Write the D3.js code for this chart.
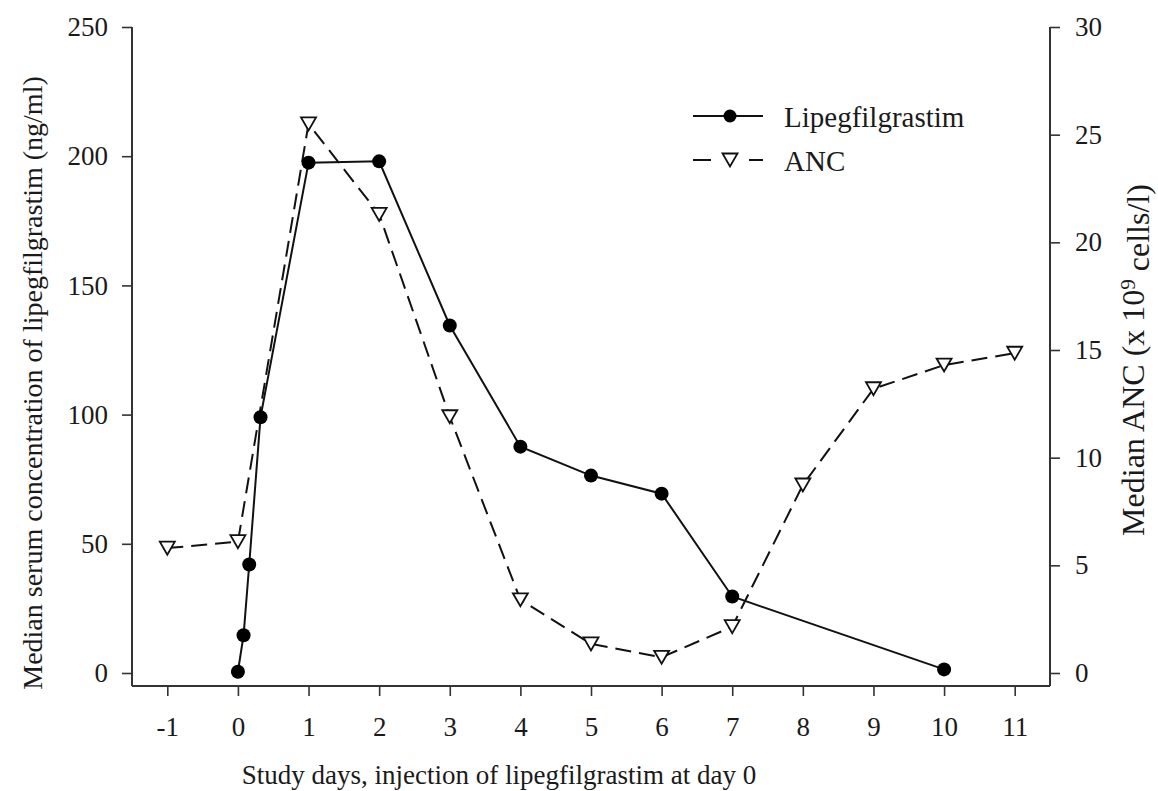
<!DOCTYPE html>
<html lang="en">
<head>
    <meta charset="UTF-8">
    <script src="https://cdn.jsdelivr.net/npm/d3@7"></script>
    <title>Lipegfilgrastim and ANC</title>
    <style>
        body { margin: 0; background: #fff; }
        svg text { font-family: "Liberation Serif", "Times New Roman", Times, serif; fill: #1a1a1a; }
        .axis line { stroke: #333; stroke-width: 1.6px; }
        .frame { stroke: #333; stroke-width: 2px; }
    </style>
</head>
<body>
    <div id="chart"></div>
    <script>
        // lipegfilgrastim serum concentration (ng/ml), left axis
        const lipegDays = [0, 0.08, 0.16, 0.32, 1, 2, 3, 4, 5, 6, 7, 10];
        const lipegConc = [0.5, 14.6, 42, 99, 197.5, 198, 134.5, 87.6, 76.4, 69.4, 29.6, 1.4];

        // median ANC (x 10^9 cells/l), right axis
        const ancDays = [-1, 0, 1, 2, 3, 4, 5, 6, 7, 8, 9, 10, 11];
        const ancValues = [5.8, 6.1, 25.5, 21.3, 11.9, 3.4, 1.35, 0.73, 2.15, 8.73, 13.2, 14.3, 14.85];

        const xTicks = [-1, 0, 1, 2, 3, 4, 5, 6, 7, 8, 9, 10, 11];
        const leftTicks = [0, 50, 100, 150, 200, 250];
        const rightTicks = [0, 5, 10, 15, 20, 25, 30];

        const width = 1158, height = 791;
        const plot = { left: 132, right: 1050, top: 27, zero: 673, bottom: 686 };

        const svg = d3.select("#chart").append("svg")
            .attr("width", width)
            .attr("height", height);

        const x = d3.scaleLinear().domain([-1.5, 11.5]).range([plot.left, plot.right]);
        const yL = d3.scaleLinear().domain([0, 250]).range([plot.zero, plot.top]);
        const yR = d3.scaleLinear().domain([0, 30]).range([plot.zero, plot.top]);

        const plain = d => String(d); // keeps the plain hyphen in "-1"

        // axes (domain lines drawn separately so they meet at the corners)
        svg.append("g").attr("class", "axis")
            .attr("transform", `translate(0,${plot.bottom})`)
            .call(d3.axisBottom(x).tickValues(xTicks).tickFormat(plain).tickSize(10).tickSizeOuter(0))
            .call(g => g.select(".domain").remove())
            .call(g => g.selectAll("text").attr("dy", null).attr("y", 50).style("font-size", "27px"));

        svg.append("g").attr("class", "axis")
            .attr("transform", `translate(${plot.left},0)`)
            .call(d3.axisLeft(yL).tickValues(leftTicks).tickFormat(plain).tickSize(10).tickPadding(14).tickSizeOuter(0))
            .call(g => g.select(".domain").remove())
            .call(g => g.selectAll("text").style("font-size", "27px"));

        svg.append("g").attr("class", "axis")
            .attr("transform", `translate(${plot.right},0)`)
            .call(d3.axisRight(yR).tickValues(rightTicks).tickFormat(plain).tickSize(10).tickPadding(15).tickSizeOuter(0))
            .call(g => g.select(".domain").remove())
            .call(g => g.selectAll("text").style("font-size", "27px"));

        svg.selectAll("g.axis text").attr("fill", "#1a1a1a");

        const frame = [
            [plot.left, plot.top, plot.left, plot.bottom],
            [plot.left, plot.bottom, plot.right, plot.bottom],
            [plot.right, plot.bottom, plot.right, plot.top]
        ];
        svg.selectAll("line.frame").data(frame).enter().append("line")
            .attr("class", "frame")
            .attr("x1", d => d[0]).attr("y1", d => d[1])
            .attr("x2", d => d[2]).attr("y2", d => d[3]);

        // axis titles
        svg.append("text")
            .attr("transform", "translate(42,383) rotate(-90)")
            .attr("text-anchor", "middle")
            .style("font-size", "28px")
            .text("Median serum concentration of lipegfilgrastim (ng/ml)");

        const rTitle = svg.append("text")
            .attr("transform", "translate(1144,360) rotate(-90)")
            .attr("text-anchor", "middle")
            .style("font-size", "32px");
        rTitle.append("tspan").text("Median ANC (x 10");
        rTitle.append("tspan").attr("dy", "-0.45em").style("font-size", "21px").text("9");
        rTitle.append("tspan").attr("dy", "0.45em").text(" cells/l)");

        svg.append("text")
            .attr("x", 499).attr("y", 784)
            .attr("text-anchor", "middle")
            .style("font-size", "27px")
            .text("Study days, injection of lipegfilgrastim at day 0");

        // series
        const lipeg = lipegDays.map((d, i) => ({ day: d, v: lipegConc[i] }));
        const anc = ancDays.map((d, i) => ({ day: d, v: ancValues[i] }));

        const triPath = "M-7.5,-6.5L7.5,-6.5L0,6.5Z";

        svg.append("path")
            .datum(anc)
            .attr("fill", "none")
            .attr("stroke", "#111")
            .attr("stroke-width", 2)
            .attr("stroke-dasharray", "16,8")
            .attr("d", d3.line().x(d => x(d.day)).y(d => yR(d.v)));

        svg.append("path")
            .datum(lipeg)
            .attr("fill", "none")
            .attr("stroke", "#111")
            .attr("stroke-width", 2)
            .attr("d", d3.line().x(d => x(d.day)).y(d => yL(d.v)));

        svg.selectAll("path.tri")
            .data(anc)
            .enter().append("path")
            .attr("class", "tri")
            .attr("d", triPath)
            .attr("transform", d => `translate(${x(d.day)},${yR(d.v)})`)
            .attr("fill", "#fff")
            .attr("stroke", "#111")
            .attr("stroke-width", 1.8);

        svg.selectAll("circle.dot")
            .data(lipeg)
            .enter().append("circle")
            .attr("class", "dot")
            .attr("cx", d => x(d.day))
            .attr("cy", d => yL(d.v))
            .attr("r", 7)
            .attr("fill", "#000");

        // legend
        const legend = svg.append("g");
        legend.append("line")
            .attr("x1", 693).attr("x2", 763).attr("y1", 116).attr("y2", 116)
            .attr("stroke", "#111").attr("stroke-width", 2);
        legend.append("circle").attr("cx", 730).attr("cy", 116).attr("r", 6.5).attr("fill", "#000");
        legend.append("text").attr("x", 784).attr("y", 127).style("font-size", "29px").text("Lipegfilgrastim");

        legend.append("line")
            .attr("x1", 693).attr("x2", 711).attr("y1", 160).attr("y2", 160)
            .attr("stroke", "#111").attr("stroke-width", 2);
        legend.append("line")
            .attr("x1", 749).attr("x2", 763).attr("y1", 160).attr("y2", 160)
            .attr("stroke", "#111").attr("stroke-width", 2);
        legend.append("path").attr("d", triPath)
            .attr("transform", "translate(730,160)")
            .attr("fill", "#fff").attr("stroke", "#111").attr("stroke-width", 1.8);
        legend.append("text").attr("x", 784).attr("y", 171).style("font-size", "29px").text("ANC");
    </script>
</body>
</html>
